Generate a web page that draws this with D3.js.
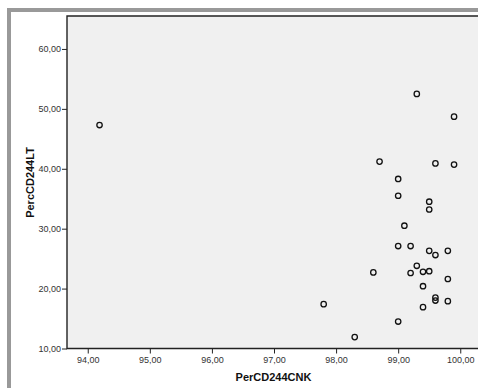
<!DOCTYPE html>
<html>
<head>
<meta charset="utf-8">
<script src="https://cdn.jsdelivr.net/npm/d3@7"></script>
<style>
  html, body { margin: 0; padding: 0; background: #fff; overflow: hidden; }
  svg { display: block; }
</style>
</head>
<body>
<svg id="chart" width="478" height="388"></svg>
<script>
// Scatter of PerCD244CNK (x) against PercCD244LT (y)
const perCD244CNK = [94.19, 99.30, 99.90, 98.70, 99.60, 99.90, 99.00, 99.00, 99.50,
  99.50, 99.10, 99.00, 99.20, 99.50, 99.60, 99.80, 98.60, 99.30, 99.20, 99.40,
  99.50, 99.80, 99.40, 99.60, 99.60, 99.80, 99.40, 99.00, 97.80, 98.30];
const percCD244LT = [47.3, 52.5, 48.7, 41.2, 40.9, 40.7, 38.3, 35.5, 34.5,
  33.2, 30.5, 27.1, 27.1, 26.3, 25.6, 26.3, 22.7, 23.8, 22.6, 22.8,
  22.9, 21.6, 20.4, 18.5, 18.0, 17.9, 16.9, 14.5, 17.4, 11.9];
const xTicks = [94, 95, 96, 97, 98, 99, 100];
const yTicks = [10, 20, 30, 40, 50, 60];

const svg = d3.select("#chart");
const font = "'Liberation Sans', Arial, sans-serif";
const fmt = v => d3.format(".2f")(v).replace(".", ",");

// outer frame
svg.append("rect")
  .attr("x", 9).attr("y", 10)
  .attr("width", 520).attr("height", 420)
  .attr("fill", "#fff")
  .attr("stroke", "#999").attr("stroke-width", 4);

// plot region (domain extends past the right edge of the view)
const plot = { left: 67, top: 16, right: 481, bottom: 348.5 };

const x = d3.scaleLinear().domain([93.666, 100.334]).range([plot.left, plot.right]);
const y = d3.scaleLinear().domain([10, 65.5]).range([plot.bottom, plot.top]);

svg.append("rect")
  .attr("x", plot.left).attr("y", plot.top)
  .attr("width", plot.right - plot.left + 20).attr("height", plot.bottom - plot.top)
  .attr("fill", "#f0f0f0");

const xAxis = svg.append("g")
  .attr("transform", `translate(0,${plot.bottom})`)
  .call(d3.axisBottom(x).tickValues(xTicks).tickFormat(fmt).tickSizeOuter(0).tickSize(5).tickPadding(3));
const yAxis = svg.append("g")
  .attr("transform", `translate(${plot.left},0)`)
  .call(d3.axisLeft(y).tickValues(yTicks).tickFormat(fmt).tickSizeOuter(0).tickSize(5).tickPadding(1));

[xAxis, yAxis].forEach(g => {
  g.select(".domain").remove();
  g.selectAll(".tick line").attr("stroke", "#222").attr("stroke-width", 1);
  g.selectAll(".tick text")
    .attr("fill", "#333")
    .style("font-family", font)
    .style("font-size", "9px");
});

// plot border: left, top and bottom edges
svg.append("path")
  .attr("d", `M${plot.right + 20},${plot.top}H${plot.left}V${plot.bottom}H${plot.right + 20}`)
  .attr("fill", "none")
  .attr("stroke", "#222").attr("stroke-width", 1.4);

// points
svg.append("g")
  .selectAll("circle")
  .data(perCD244CNK.map((v, i) => [v, percCD244LT[i]]))
  .join("circle")
  .attr("cx", d => x(d[0]))
  .attr("cy", d => y(d[1]))
  .attr("r", 2.7)
  .attr("fill", "none")
  .attr("stroke", "#111")
  .attr("stroke-width", 1.3);

// axis titles
svg.append("text")
  .attr("x", 273.5).attr("y", 381)
  .attr("text-anchor", "middle")
  .style("font-family", font).style("font-size", "11px").style("font-weight", "bold")
  .attr("fill", "#111")
  .text("PerCD244CNK");

svg.append("text")
  .attr("transform", `translate(34,182.5) rotate(-90)`)
  .attr("text-anchor", "middle")
  .style("font-family", font).style("font-size", "11px").style("font-weight", "bold")
  .attr("fill", "#111")
  .text("PercCD244LT");
</script>
</body>
</html>
